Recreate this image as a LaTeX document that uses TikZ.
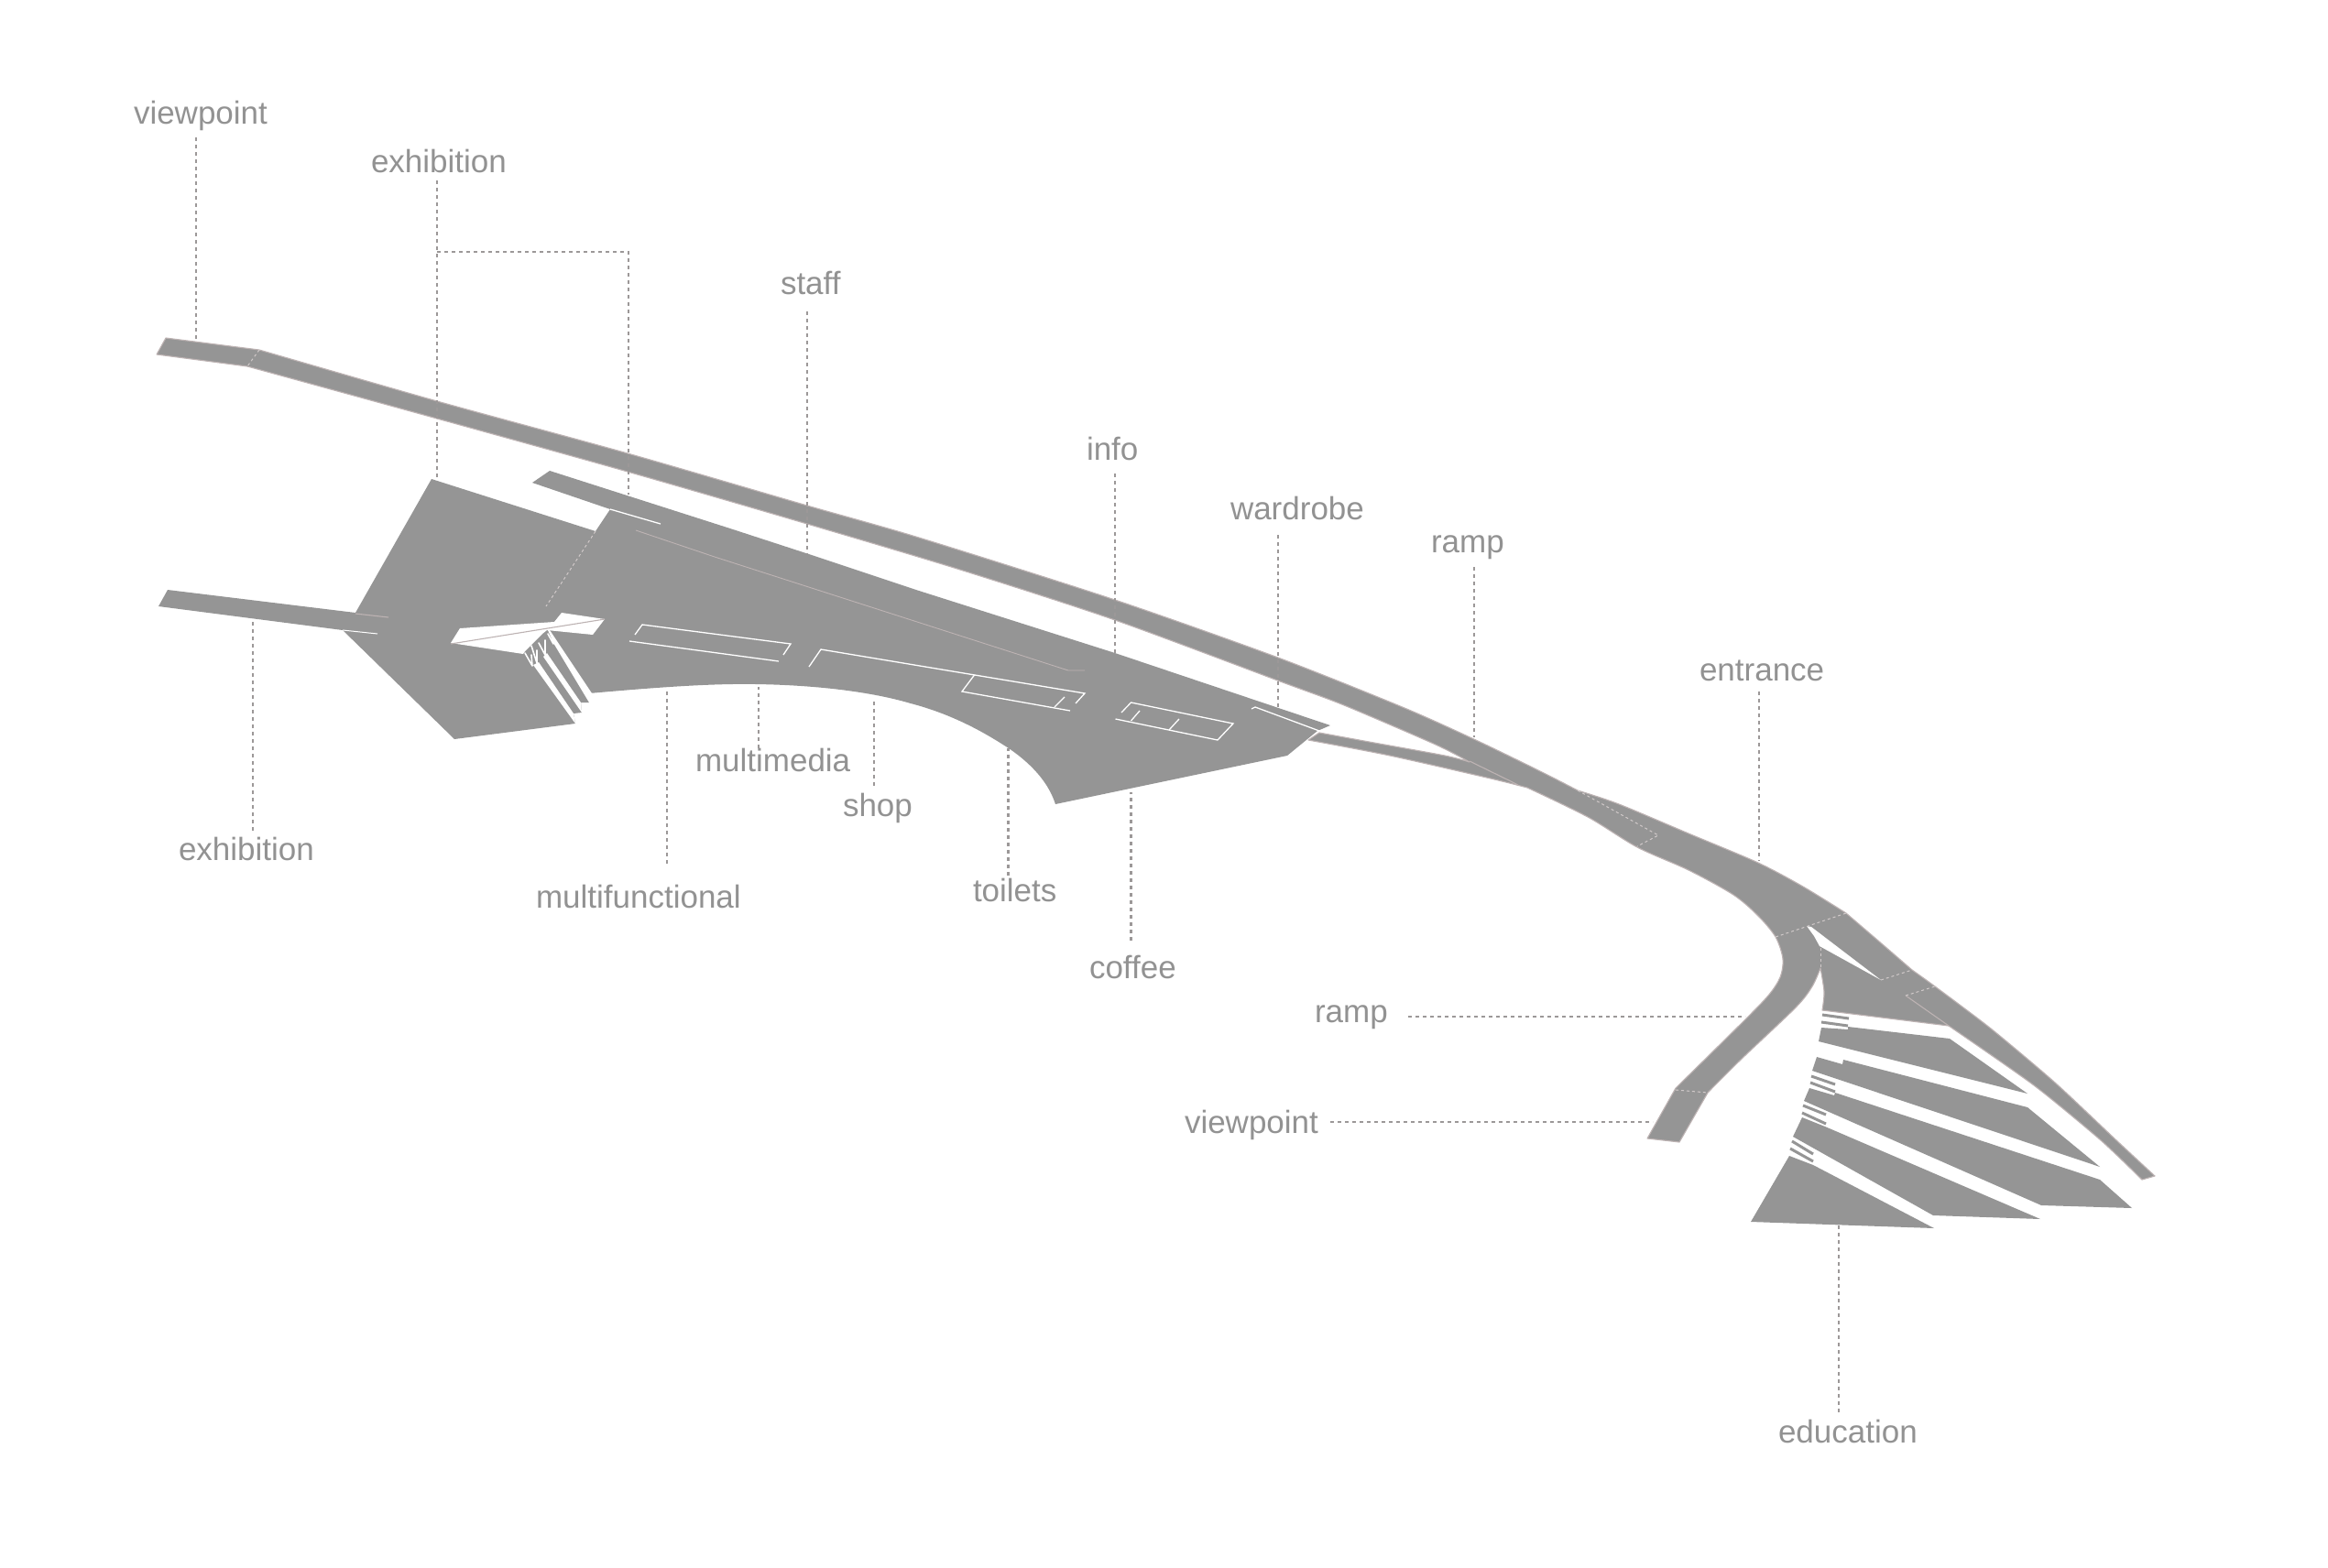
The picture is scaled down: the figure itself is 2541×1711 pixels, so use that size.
\documentclass[tikz,border=0pt]{standalone}
\usepackage{fontspec}
\setmainfont{Liberation Sans}
\definecolor{plan}{HTML}{959595}
\definecolor{edge}{HTML}{BDB3B3}
\definecolor{txt}{HTML}{929292}
\definecolor{lead}{HTML}{9C9898}
\tikzset{
  solid plan/.style={fill=plan,draw=none},
  outlined/.style={fill=plan,draw=edge,line width=1.1pt,line join=round},
  gap/.style={fill=white,draw=none},
  room/.style={draw=white,line width=1.3pt},
  seam/.style={draw=edge,line width=1.1pt},
  dotseam/.style={draw=edge!70!white,line width=1pt,dash pattern=on 3pt off 3pt},
  prong/.style={draw=white,line width=1.6pt,line cap=round},
  tread/.style={draw=plan,line width=3pt},
  leader/.style={draw=lead,line width=2.4pt,dash pattern=on 4pt off 4pt},
  lbl/.style={text=txt,anchor=base west,inner sep=0pt,outer sep=0pt,font=\fontsize{35}{40}\selectfont}
}
\begin{document}
\begin{tikzpicture}[x=1pt,y=-1pt]
\useasboundingbox (0,0) rectangle (2541,1711);
% main plan
\path[solid plan] (471,523) -- (650,580) -- (666,556) -- (581,527) -- (600,514) -- (800,578) -- (892,608) -- (1003,645) -- (1217,713) -- (1452,792) -- (1438,798) -- (1405,825) -- (1152,878)
  .. controls (1143,850) and (1120,830) .. (1101,817)
  .. controls (1075,800) and (1040,780) .. (994,768)
  .. controls (950,755) and (890,748) .. (825,747)
  .. controls (770,746) and (700,752) .. (643,757)
  -- (643,767) -- (634,767) -- (635,778) -- (626,779) -- (628,790) -- (496,807) -- (374,688) -- (173,662) -- (183,644) -- (388,669) -- cycle;
% void and stairs
\path[gap] (502,686) -- (605,679) -- (613,669) -- (660,676) -- (647,693) -- (597,688) -- (592,692) -- (582,702) -- (573,711) -- (571,714) -- (492,702) -- cycle;
\path[gap] (604,702) -- (598,688) -- (600,688) -- (648,760) -- (648,770) -- (643,767) -- cycle;
\path[gap] (597,713) -- (634,767) -- (635,778) -- (593,717) -- cycle;
\path[gap] (588,723) -- (626,779) -- (628,790) -- (582,726) -- cycle;
\draw[prong] (604,703) -- (598,692) (604,703) -- (603,696);
\draw[prong] (595,715) -- (588,702) (595,715) -- (595,699);
\draw[prong] (586,724) -- (580,705) (586,724) -- (586,710);
\draw[prong] (581,727) -- (573,713) (581,727) -- (580,715);
\draw[seam] (492,703) -- (660,676);
% main strip, ramps, top block
\path[outlined] (181,369) -- (283,382)
  -- plot[smooth,tension=.45] coordinates {(283,382) (477,438) (685,495) (881,552) (1003,587) (1217,655) (1395,718) (1533,773) (1613,809) (1683,843) (1722,863)}
  -- plot[smooth,tension=.45] coordinates {(1722,863) (1767,878) (1843,910) (1919,942) (1968,968) (2015,997)}
  -- plot[smooth,tension=.4] coordinates {(2015,997) (2050,1027) (2087,1059)}
  -- plot[smooth,tension=.4] coordinates {(2087,1059) (2112,1077) (2173,1123) (2243,1182) (2310,1245) (2352,1284)}
  -- (2338,1288)
  -- plot[smooth,tension=.4] coordinates {(2338,1288) (2293,1245) (2220,1185) (2127,1120)}
  -- (1989,1103)
  -- plot[smooth,tension=.5] coordinates {(1989,1103) (1991,1083) (1987,1057)}
  -- plot[smooth,tension=.5] coordinates {(1987,1057) (1978,1077) (1960,1100) (1900,1157) (1864,1193)}
  -- (1833,1247) -- (1798,1243) -- (1829,1188)
  -- plot[smooth,tension=.5] coordinates {(1829,1188) (1900,1118) (1930,1087) (1943,1067) (1946,1047) (1938,1023) (1919,1000) (1892,977) (1843,950) (1787,925) (1733,892) (1667,860)}
  -- plot[smooth,tension=.5] coordinates {(1667,860) (1627,850) (1517,825) (1428,808)}
  -- (1440,800)
  -- plot[smooth,tension=.5] coordinates {(1440,800) (1500,811) (1577,825) (1604,832)}
  -- plot[smooth,tension=.45] coordinates {(1604,832) (1567,813) (1467,770) (1400,745) (1217,677) (1048,622) (881,572) (685,515) (477,457) (270,400)}
  -- (171,387) -- cycle;
\path[gap] (1972,1011) -- (1980,1022) -- (1986,1033) -- (2053,1070) -- (1977,1012) -- cycle;
\draw[seam] (2080,1087) -- (2127,1120);
% education blocks
\path[solid plan] (1988,1122) -- (2017,1124) -- (2017,1121) -- (2128,1134) -- (2213,1194) -- (1985,1137) -- cycle;
\path[solid plan] (1983,1154) -- (2011,1162) -- (2012,1157) -- (2213,1209) -- (2292,1274) -- (1978,1169) -- cycle;
\path[solid plan] (1975,1188) -- (2002,1196) -- (2003,1193) -- (2292,1288) -- (2327,1319) -- (2228,1316) -- (1969,1202) -- cycle;
\path[solid plan] (1967,1220) -- (1992,1230) -- (2227,1331) -- (2110,1327) -- (1957,1241) -- cycle;
\path[solid plan] (1953,1262) -- (1979,1272) -- (2111,1341) -- (1911,1334) -- cycle;
% stair treads
\draw[tread] (1989,1108) -- (2018,1112) (1988,1116) -- (2017,1120);
\draw[tread] (1977,1175) -- (2003,1184) (1976,1182) -- (2003,1192);
\draw[tread] (1968,1207) -- (1993,1217) (1967,1215) -- (1993,1227);
\draw[tread] (1956,1246) -- (1979,1260) (1954,1254) -- (1979,1268);
% interior lines
\draw[room] (687,700) -- (850,722);
\draw[room] (693,693) -- (701,682) -- (863,703) -- (855,715);
\draw[room] (883,728) -- (896,709) -- (1184,757) -- (1174,768);
\draw[room] (1063.5,737) -- (1050,755) -- (1168,776);
\draw[room] (1162,761) -- (1151,772);
\draw[room] (1224,778) -- (1234.5,767) -- (1346,790) -- (1329,808) -- (1217.5,785);
\draw[room] (1244,776) -- (1234.5,787);
\draw[room] (1287,785) -- (1276,797);
\draw[room] (1366,774) -- (1370,772) -- (1440,798);
\draw[room] (666,556) -- (721,572);
\draw[room,line width=1pt] (374,688) -- (412,692);
\draw[seam] (388,670) -- (424,674);
\draw[seam,line width=.9pt] (694,579) -- (780,608) -- (1166,732) -- (1184,732);
\draw[seam] (1604,831) -- (1657,857);
\draw[dotseam] (650,580) -- (596,662);
\draw[dotseam] (283,382) -- (270,400);
\draw[dotseam] (1722,863) -- (1810,912) -- (1787,924);
\draw[dotseam] (1938,1023) -- (2015,997);
\draw[dotseam] (2053,1070) -- (2087,1059);
\draw[dotseam] (2080,1087) -- (2112,1077);
\draw[dotseam] (1829,1190) -- (1864,1193);
\draw[dotseam] (1987,1035) -- (1987,1057);
% labels
\node[lbl] (vpa) at (146,135) {viewpoint};
\node[lbl] (exa) at (405,188) {exhibition};
\node[lbl] (sta) at (852,321) {staff};
\node[lbl] (inf) at (1186,502) {info};
\node[lbl] (war) at (1343,567) {wardrobe};
\node[lbl] (ram) at (1562,603) {ramp};
\node[lbl] (ent) at (1855,743) {entrance};
\node[lbl] (exb) at (195,939) {exhibition};
\node[lbl] (muf) at (585,991) {multifunctional};
\node[lbl] (mum) at (759,842) {multimedia};
\node[lbl] (sho) at (920,891) {shop};
\node[lbl] (toi) at (1062,984) {toilets};
\node[lbl] (cof) at (1189,1068) {coffee};
\node[lbl] (rab) at (1435,1116) {ramp};
\node[lbl] (vpb) at (1293,1237) {viewpoint};
\node[lbl] (edu) at (1941,1575) {education};
% leader ends
\coordinate (c1a) at (214,150); \coordinate (c1b) at (214,373);
\coordinate (c2a) at (477,197); \coordinate (c2b) at (477,524);
\coordinate (c2c) at (477,275); \coordinate (c2d) at (686,275); \coordinate (c2e) at (686,540);
\coordinate (c3a) at (881,340); \coordinate (c3b) at (881,605);
\coordinate (c4a) at (1217,517); \coordinate (c4b) at (1217,713);
\coordinate (c5a) at (1395,584); \coordinate (c5b) at (1395,772);
\coordinate (c6a) at (1609,619); \coordinate (c6b) at (1609,805);
\coordinate (c7a) at (1920,755); \coordinate (c7b) at (1920,940);
\coordinate (c8a) at (276,907); \coordinate (c8b) at (276,676);
\coordinate (c9a) at (728,943); \coordinate (c9b) at (728,752);
\coordinate (c10a) at (828,817); \coordinate (c10b) at (828,750);
\coordinate (c11a) at (954,858); \coordinate (c11b) at (954,764);
\coordinate (c12a) at (1100.5,956); \coordinate (c12b) at (1100.5,817);
\coordinate (c13a) at (1234.5,1027); \coordinate (c13b) at (1234.5,865);
\coordinate (c14a) at (1537,1110); \coordinate (c14b) at (1905,1110);
\coordinate (c15a) at (1452,1225); \coordinate (c15b) at (1804,1225);
\coordinate (c16a) at (2007,1542); \coordinate (c16b) at (2007,1338);
\draw[leader] (c1a) -- (c1b);
\draw[leader] (c2a) -- (c2b);
\draw[leader] (c2c) -- (c2d) -- (c2e);
\draw[leader] (c3a) -- (c3b);
\draw[leader] (c4a) -- (c4b);
\draw[leader] (c5a) -- (c5b);
\draw[leader] (c6a) -- (c6b);
\draw[leader] (c7a) -- (c7b);
\draw[leader] (c8a) -- (c8b);
\draw[leader] (c9a) -- (c9b);
\draw[leader] (c10a) -- (c10b);
\draw[leader] (c11a) -- (c11b);
\draw[leader] (c12a) -- (c12b);
\draw[leader] (c13a) -- (c13b);
\draw[leader] (c14a) -- (c14b);
\draw[leader] (c15a) -- (c15b);
\draw[leader] (c16a) -- (c16b);
\end{tikzpicture}
\end{document}
